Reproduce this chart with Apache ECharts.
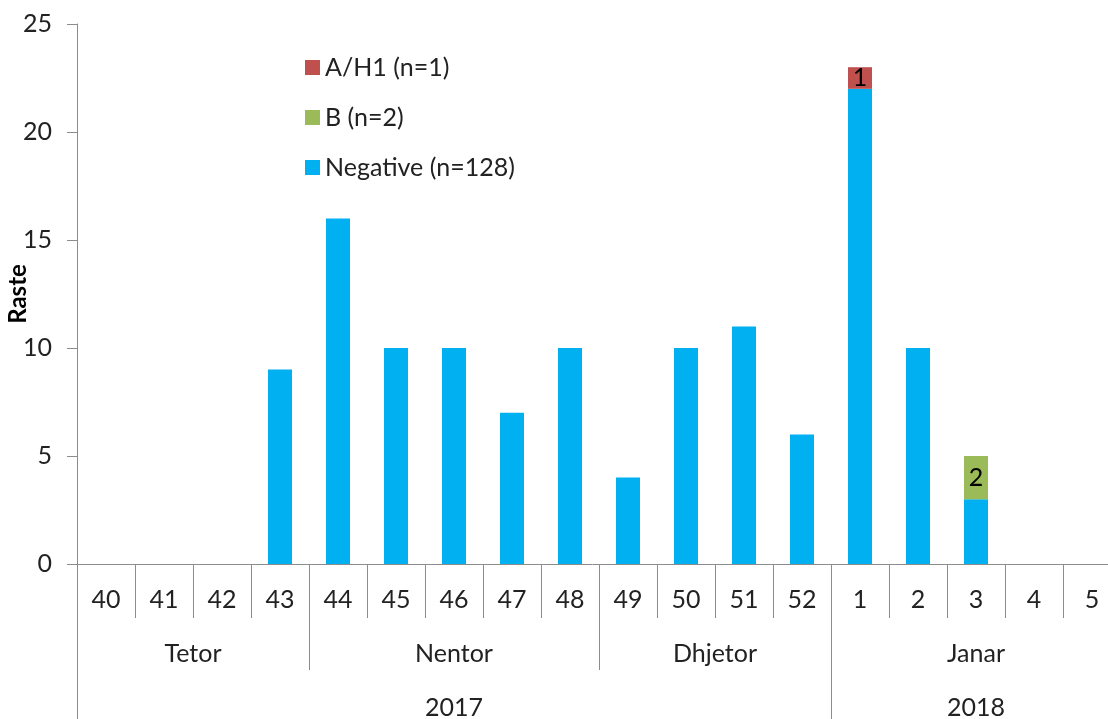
<!DOCTYPE html>
<html>
<head>
<meta charset="utf-8">
<script src="https://cdn.jsdelivr.net/npm/echarts@6/dist/echarts.min.js"></script>
<style>
  html, body { margin: 0; padding: 0; background: #fff; }
  #chart { width: 1108px; height: 719px; }
</style>
</head>
<body>
<div id="chart"></div>
<script>
// javet (weeks) 40..52 te 2017, 1..5 te 2018
const weeks = ['40', '41', '42', '43', '44', '45', '46', '47', '48', '49', '50', '51', '52', '1', '2', '3', '4', '5'];
const negative = [0, 0, 0, 9, 16, 10, 10, 7, 10, 4, 10, 11, 6, 22, 10, 3, 0, 0];
const typeB = [0, 0, 0, 0, 0, 0, 0, 0, 0, 0, 0, 0, 0, 0, 0, 2, 0, 0];
const typeAH1 = [0, 0, 0, 0, 0, 0, 0, 0, 0, 0, 0, 0, 0, 1, 0, 0, 0, 0];

// muajt dhe vitet, me gjatesine ne jave
const months = ['Tetor', 'Nentor', 'Dhjetor', 'Janar'];
const monthWeeks = [4, 5, 4, 5];
const years = ['2017', '2018'];
const yearWeeks = [13, 5];

const gray = '#8c8c8c';
const font = 'Lato, "Liberation Sans", sans-serif';
const fs = 25;

// nje pike per cdo gjysme jave, qe etiketat te bien ne mes te grupit
function halfAxis(names, lengths) {
    const labels = [];
    for (let i = 0; i <= weeks.length * 2; i++) labels.push('');
    const ticks = [0];
    let pos = 0;
    names.forEach(function (n, i) {
        labels[pos + lengths[i]] = n;
        pos += lengths[i] * 2;
        ticks.push(pos);
    });
    return { labels: labels, ticks: ticks };
}
const monthAxis = halfAxis(months, monthWeeks);
const yearAxis = halfAxis(years, yearWeeks);

const chart = echarts.init(document.getElementById('chart'));

function zeroToNull(arr) {
    return arr.map(function (v) { return v === 0 ? null : v; });
}

const option = {
    animation: false,
    textStyle: { fontFamily: font },
    grid: { left: 77, right: -13, top: 24, bottom: 155, containLabel: false, outerBoundsMode: 'none' },
    legend: {
        data: ['A/H1 (n=1)', 'B (n=2)', 'Negative (n=128)'],
        orient: 'vertical',
        left: 300,
        top: 48,
        icon: 'rect',
        itemWidth: 15,
        itemHeight: 15,
        itemGap: 21,
        textStyle: { fontSize: fs, color: '#222', fontFamily: font, lineHeight: 29 }
    },
    xAxis: [{
        type: 'category',
        data: weeks,
        position: 'bottom',
        axisLine: { show: true, lineStyle: { color: gray, width: 1 } },
        axisTick: { show: true, interval: 0, length: 54, lineStyle: { color: gray } },
        axisLabel: { interval: 0, margin: 23, fontSize: fs, color: '#222', fontFamily: font }
    }, {
        type: 'category',
        data: monthAxis.labels,
        boundaryGap: false,
        position: 'bottom',
        axisLine: { show: false },
        axisTick: {
            show: true,
            length: 106,
            lineStyle: { color: gray },
            interval: function (i) { return monthAxis.ticks.indexOf(i) >= 0; }
        },
        axisLabel: { interval: 0, margin: 77, fontSize: fs, color: '#222', fontFamily: font }
    }, {
        type: 'category',
        data: yearAxis.labels,
        boundaryGap: false,
        position: 'bottom',
        axisLine: { show: false },
        axisTick: {
            show: true,
            length: 155,
            lineStyle: { color: gray },
            interval: function (i) { return yearAxis.ticks.indexOf(i) >= 0; }
        },
        axisLabel: { interval: 0, margin: 131, fontSize: fs, color: '#222', fontFamily: font }
    }],
    yAxis: {
        type: 'value',
        min: 0,
        max: 25,
        interval: 5,
        name: 'Raste',
        nameLocation: 'middle',
        nameGap: 47,
        nameMoveOverlap: false,
        nameTextStyle: { fontSize: 24, fontWeight: 'bold', color: '#000', fontFamily: font },
        axisLine: { show: true, lineStyle: { color: gray } },
        axisTick: { show: true, length: 10, lineStyle: { color: gray } },
        splitLine: { show: false },
        axisLabel: { fontSize: fs, margin: 25, color: '#222', fontFamily: font }
    },
    series: [{
        name: 'Negative (n=128)',
        type: 'bar',
        stack: 'raste',
        barWidth: 24,
        data: negative,
        itemStyle: { color: '#00B0F0' }
    }, {
        name: 'B (n=2)',
        type: 'bar',
        stack: 'raste',
        barWidth: 24,
        data: zeroToNull(typeB),
        itemStyle: { color: '#9BBB59' },
        label: { show: true, position: 'inside', fontSize: fs, color: '#000', fontFamily: font }
    }, {
        name: 'A/H1 (n=1)',
        type: 'bar',
        stack: 'raste',
        barWidth: 24,
        data: zeroToNull(typeAH1),
        itemStyle: { color: '#C0504D' },
        label: { show: true, position: 'inside', fontSize: fs, color: '#000', fontFamily: font }
    }]
};
chart.setOption(option);
</script>
</body>
</html>
